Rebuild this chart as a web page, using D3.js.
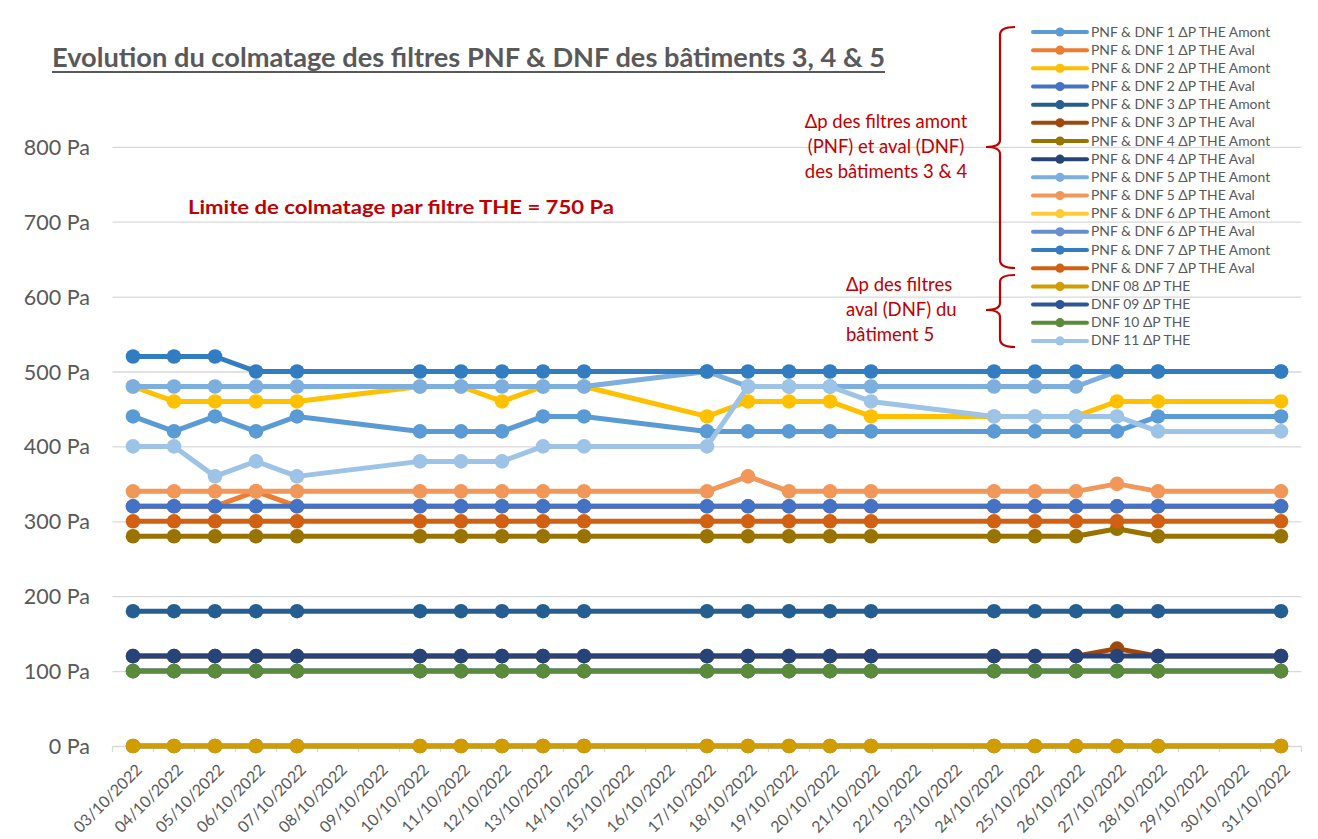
<!DOCTYPE html>
<html><head><meta charset="utf-8">
<script src="https://cdn.jsdelivr.net/npm/d3@7"></script>
<style>html,body{margin:0;padding:0;background:#fff;}svg{display:block;font-family:Lato,"Open Sans",sans-serif;}</style>
</head><body>
<svg id="c" width="1318" height="839"></svg>
<script>
// ---------- DATA ----------
const categories = ["03/10/2022","04/10/2022","05/10/2022","06/10/2022","07/10/2022","08/10/2022","09/10/2022","10/10/2022","11/10/2022","12/10/2022","13/10/2022","14/10/2022","15/10/2022","16/10/2022","17/10/2022","18/10/2022","19/10/2022","20/10/2022","21/10/2022","22/10/2022","23/10/2022","24/10/2022","25/10/2022","26/10/2022","27/10/2022","28/10/2022","29/10/2022","30/10/2022","31/10/2022"];
const measureDates = ["03/10/2022","04/10/2022","05/10/2022","06/10/2022","07/10/2022","10/10/2022","11/10/2022","12/10/2022","13/10/2022","14/10/2022","17/10/2022","18/10/2022","19/10/2022","20/10/2022","21/10/2022","24/10/2022","25/10/2022","26/10/2022","27/10/2022","28/10/2022","31/10/2022"];
const yTicks = [0,100,200,300,400,500,600,700,800];

const pnf1Amont = [440,420,440,420,440, 420,420,420,440,440, 420,420,420,420,420, 420,420,420,420,440, 440];
const pnf1Aval  = [320,320,320,340,320, 320,320,320,320,320, 320,320,320,320,320, 320,320,320,320,320, 320];
const pnf2Amont = [480,460,460,460,460, 480,480,460,480,480, 440,460,460,460,440, 440,440,440,460,460, 460];
const pnf2Aval  = [320,320,320,320,320, 320,320,320,320,320, 320,320,320,320,320, 320,320,320,320,320, 320];
const pnf3Amont = [180,180,180,180,180, 180,180,180,180,180, 180,180,180,180,180, 180,180,180,180,180, 180];
const pnf3Aval  = [120,120,120,120,120, 120,120,120,120,120, 120,120,120,120,120, 120,120,120,130,120, 120];
const pnf4Amont = [280,280,280,280,280, 280,280,280,280,280, 280,280,280,280,280, 280,280,280,290,280, 280];
const pnf4Aval  = [120,120,120,120,120, 120,120,120,120,120, 120,120,120,120,120, 120,120,120,120,120, 120];
const pnf5Amont = [480,480,480,480,480, 480,480,480,480,480, 500,480,480,480,480, 480,480,480,500,500, 500];
const pnf5Aval  = [340,340,340,340,340, 340,340,340,340,340, 340,360,340,340,340, 340,340,340,350,340, 340];
const pnf6Amont = [0,0,0,0,0, 0,0,0,0,0, 0,0,0,0,0, 0,0,0,0,0, 0];
const pnf6Aval  = [0,0,0,0,0, 0,0,0,0,0, 0,0,0,0,0, 0,0,0,0,0, 0];
const pnf7Amont = [520,520,520,500,500, 500,500,500,500,500, 500,500,500,500,500, 500,500,500,500,500, 500];
const pnf7Aval  = [300,300,300,300,300, 300,300,300,300,300, 300,300,300,300,300, 300,300,300,300,300, 300];
const dnf08 = [0,0,0,0,0, 0,0,0,0,0, 0,0,0,0,0, 0,0,0,0,0, 0];
const dnf09 = [100,100,100,100,100, 100,100,100,100,100, 100,100,100,100,100, 100,100,100,100,100, 100];
const dnf10 = [100,100,100,100,100, 100,100,100,100,100, 100,100,100,100,100, 100,100,100,100,100, 100];
const dnf11 = [400,400,360,380,360, 380,380,380,400,400, 400,480,480,480,460, 440,440,440,440,420, 420];

const seriesNames = ["PNF & DNF 1 ΔP THE Amont","PNF & DNF 1 ΔP THE Aval","PNF & DNF 2 ΔP THE Amont","PNF & DNF 2 ΔP THE Aval","PNF & DNF 3 ΔP THE Amont","PNF & DNF 3 ΔP THE Aval","PNF & DNF 4 ΔP THE Amont","PNF & DNF 4 ΔP THE Aval","PNF & DNF 5 ΔP THE Amont","PNF & DNF 5 ΔP THE Aval","PNF & DNF 6 ΔP THE Amont","PNF & DNF 6 ΔP THE Aval","PNF & DNF 7 ΔP THE Amont","PNF & DNF 7 ΔP THE Aval","DNF 08 ΔP THE","DNF 09 ΔP THE","DNF 10 ΔP THE","DNF 11 ΔP THE"];
const seriesValues = [pnf1Amont,pnf1Aval,pnf2Amont,pnf2Aval,pnf3Amont,pnf3Aval,pnf4Amont,pnf4Aval,pnf5Amont,pnf5Aval,pnf6Amont,pnf6Aval,pnf7Amont,pnf7Aval,dnf08,dnf09,dnf10,dnf11];
const seriesColors = ["#5B9BD5","#ED7D31","#FFC000","#4472C4","#255E91","#9E480E","#997300","#264478","#7CAFDD","#F1975A","#FFCD33","#698ED0","#327DC2","#D26012","#D09C00","#2F5597","#5A8B3B","#9DC3E6"];

const titleText = "Evolution du colmatage des filtres PNF & DNF des bâtiments 3, 4 & 5";
const limitText = "Limite de colmatage par filtre THE = 750 Pa";
const note1 = ["Δp des filtres amont","(PNF) et aval (DNF)","des bâtiments 3 & 4"];
const note2 = ["Δp des filtres","aval (DNF) du","bâtiment 5"];

// ---------- CHART ----------
const svg = d3.select("#c");
const gray = "#595959", red = "#C00000";
const x = d3.scaleBand().domain(categories).range([112.5, 1301.5]).padding(0);
const cx = d => x(d) + x.bandwidth()/2;
const y = d3.scaleLinear().domain([0, 800]).range([746, 146.8]);

// gridlines
const grid = d3.axisLeft(y).tickValues(yTicks.slice(1)).tickSize(-(1301.5-112.5)).tickFormat("");
svg.append("g").attr("transform","translate(112.5,0)").call(grid)
  .call(g => g.select(".domain").remove())
  .call(g => g.selectAll("line").attr("stroke","#D9D9D9").attr("stroke-width",1.3));

// y labels
const yAx = d3.axisLeft(y).tickValues(yTicks).tickSize(0).tickPadding(0).tickFormat(d => d + " Pa");
svg.append("g").attr("transform","translate(90,0)").call(yAx)
  .call(g => g.select(".domain").remove())
  .call(g => g.selectAll("text").attr("fill",gray).attr("font-size","21.5px").attr("font-family","Lato").attr("dy","0.35em"));

// x axis
const xAx = d3.axisBottom(x).tickSize(0).tickFormat(d => d);
const xg = svg.append("g").attr("transform","translate(0,746)").call(xAx);
xg.select(".domain").attr("stroke","#D9D9D9").attr("stroke-width",1.3);
xg.selectAll(".tick text").attr("fill",gray).attr("font-size","16px").attr("font-family","Lato")
  .attr("text-anchor","end").attr("y",0).attr("dy",0)
  .attr("transform","translate(10,25) rotate(-45)");
// tick marks between categories
const bounds = categories.map(c => x(c)).concat([x(categories[categories.length-1]) + x.bandwidth()]);
svg.append("g").selectAll("line").data(bounds).join("line")
  .attr("x1",d=>d).attr("x2",d=>d).attr("y1",746).attr("y2",752)
  .attr("stroke","#D9D9D9").attr("stroke-width",1.3);

// series
const line = d3.line().x(d => cx(d.date)).y(d => y(d.v));
seriesValues.forEach((vals, i) => {
  const pts = vals.map((v, j) => ({date: measureDates[j], v})).filter(d => d.v != null);
  const g = svg.append("g");
  g.append("path").datum(pts).attr("d", line).attr("fill","none")
    .attr("stroke", seriesColors[i]).attr("stroke-width",5).attr("stroke-linejoin","round").attr("stroke-linecap","round");
  g.selectAll("circle").data(pts).join("circle")
    .attr("cx", d => cx(d.date)).attr("cy", d => y(d.v)).attr("r",7.3).attr("fill", seriesColors[i]);
});

// title
svg.append("text").attr("x",52).attr("y",67).text(titleText)
  .attr("font-family","Lato").attr("font-weight","bold").attr("font-size","26.5px").attr("fill",gray)
  .attr("textLength",833).attr("lengthAdjust","spacingAndGlyphs");
svg.append("line").attr("x1",52).attr("x2",885).attr("y1",72).attr("y2",72).attr("stroke",gray).attr("stroke-width",2);

// limit annotation
svg.append("text").attr("x",188).attr("y",214).text(limitText)
  .attr("font-family","Lato").attr("font-weight","bold").attr("font-size","19px").attr("fill",red)
  .attr("textLength",426).attr("lengthAdjust","spacingAndGlyphs");

// notes
svg.append("g").selectAll("text").data(note1).join("text")
  .attr("x",886).attr("y",(d,i)=>128+i*25).attr("text-anchor","middle").text(d=>d)
  .attr("font-family","Lato").attr("font-size","18.5px").attr("fill",red);
svg.append("g").selectAll("text").data(note2).join("text")
  .attr("x",846).attr("y",(d,i)=>291+i*25).attr("text-anchor","start").text(d=>d)
  .attr("font-family","Lato").attr("font-size","18.5px").attr("fill",red);

// braces
svg.append("path").attr("d","M1015,27 Q1000,27 1000,35 L1000,140 Q1000,147 986,147 Q1000,147 1000,154 L1000,260 Q1000,268 1015,268")
  .attr("fill","none").attr("stroke",red).attr("stroke-width",2.2);
svg.append("path").attr("d","M1015,275 Q1000,275 1000,282 L1000,303 Q1000,310 986,310 Q1000,310 1000,317 L1000,339 Q1000,347 1015,347")
  .attr("fill","none").attr("stroke",red).attr("stroke-width",2.2);

// legend
const lg = svg.append("g");
seriesNames.forEach((name, i) => {
  const yy = 32 + i*18.17;
  lg.append("line").attr("x1",1033).attr("x2",1087).attr("y1",yy).attr("y2",yy)
    .attr("stroke",seriesColors[i]).attr("stroke-width",4).attr("stroke-linecap","round");
  lg.append("circle").attr("cx",1060).attr("cy",yy).attr("r",4.6).attr("fill",seriesColors[i]);
  lg.append("text").attr("x",1091).attr("y",yy+4.6).text(name)
    .attr("font-family","Lato").attr("font-size","13.9px").attr("fill",gray);
});
</script>
</body></html>
